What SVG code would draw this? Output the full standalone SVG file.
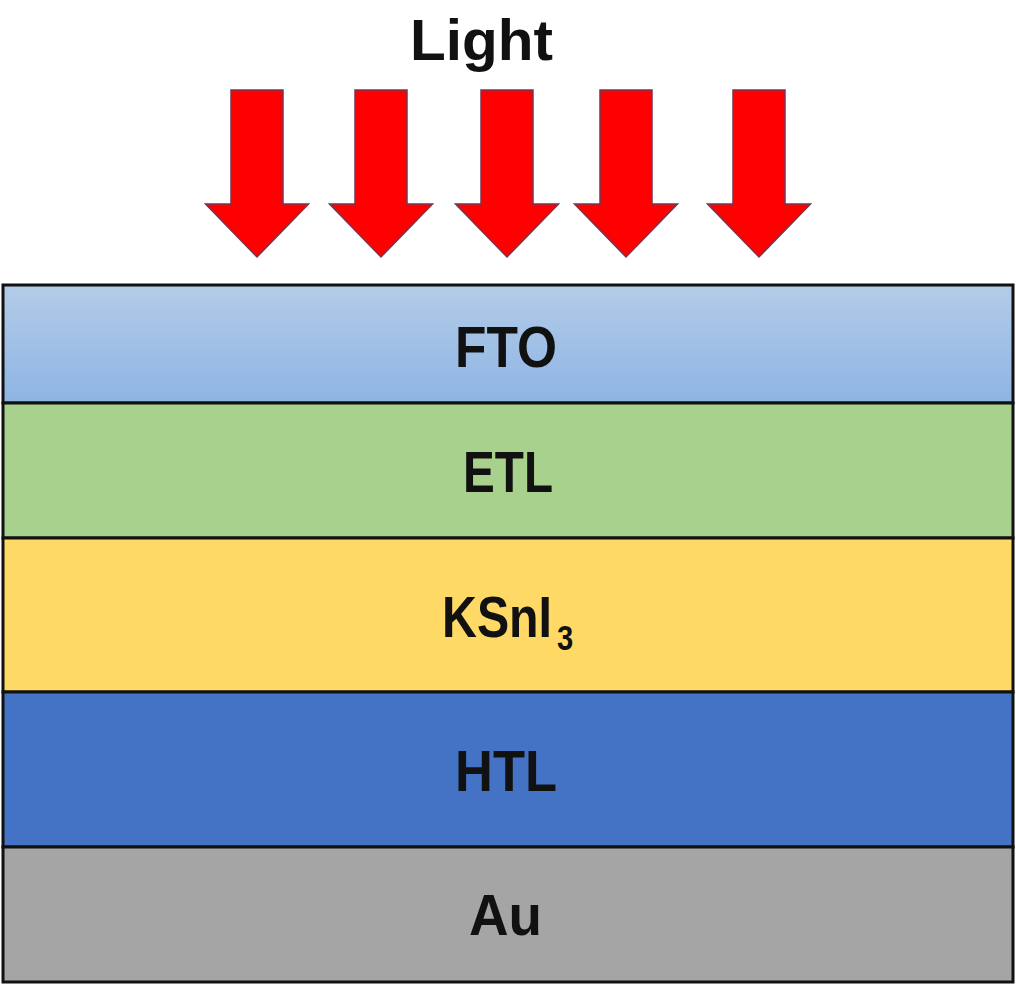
<svg xmlns="http://www.w3.org/2000/svg" xmlns:xlink="http://www.w3.org/1999/xlink" width="1016" height="986" viewBox="0 0 1016 986">
  <style>
    .layer { stroke: #111; stroke-width: 3; }
    .lbl { font-family: "Liberation Sans", Arial, sans-serif; font-weight: bold; font-size: 58px; fill: #111; }
    .arrow { fill: #FF0000; stroke: #7A3550; stroke-width: 1.5; stroke-linejoin: miter; }
  </style>
  <defs>
    <linearGradient id="ftoGrad" x1="0" y1="0" x2="0" y2="1">
      <stop offset="0" stop-color="#B3CCE8"/>
      <stop offset="1" stop-color="#8EB4E3"/>
    </linearGradient>
    <path id="arr" d="M -26 90 H 26 V 204 H 51.5 L 0 257 L -51.5 204 H -26 Z"/>
  </defs>
  <rect width="1016" height="986" fill="#FFFFFF"/>

  <g id="title">
    <text class="lbl" x="410" y="60" font-size="65" textLength="143" lengthAdjust="spacingAndGlyphs">Light</text>
  </g>

  <g id="arrows">
    <use xlink:href="#arr" href="#arr" class="arrow" transform="translate(257,0)"/>
    <use xlink:href="#arr" href="#arr" class="arrow" transform="translate(381,0)"/>
    <use xlink:href="#arr" href="#arr" class="arrow" transform="translate(507,0)"/>
    <use xlink:href="#arr" href="#arr" class="arrow" transform="translate(626,0)"/>
    <use xlink:href="#arr" href="#arr" class="arrow" transform="translate(759,0)"/>
  </g>

  <g id="layer-FTO">
    <rect class="layer" x="3" y="285" width="1010" height="118" fill="url(#ftoGrad)"/>
    <text class="lbl" x="455" y="367" textLength="102" lengthAdjust="spacingAndGlyphs">FTO</text>
  </g>
  <g id="layer-ETL">
    <rect class="layer" x="3" y="403" width="1010" height="135" fill="#A9D18E"/>
    <text class="lbl" x="463" y="492" textLength="90" lengthAdjust="spacingAndGlyphs">ETL</text>
  </g>
  <g id="layer-KSnI3">
    <rect class="layer" x="3" y="538" width="1010" height="154" fill="#FFD966"/>
    <text class="lbl" transform="translate(442,637) scale(0.833,1)" x="0" y="0">KSnI<tspan x="138" dy="13" font-size="35">3</tspan></text>
  </g>
  <g id="layer-HTL">
    <rect class="layer" x="3" y="692" width="1010" height="155" fill="#4472C4"/>
    <text class="lbl" x="455" y="791" textLength="102" lengthAdjust="spacingAndGlyphs">HTL</text>
  </g>
  <g id="layer-Au">
    <rect class="layer" x="3" y="847" width="1010" height="135" fill="#A5A5A5"/>
    <text class="lbl" x="469" y="935" textLength="73" lengthAdjust="spacingAndGlyphs">Au</text>
  </g>
</svg>
